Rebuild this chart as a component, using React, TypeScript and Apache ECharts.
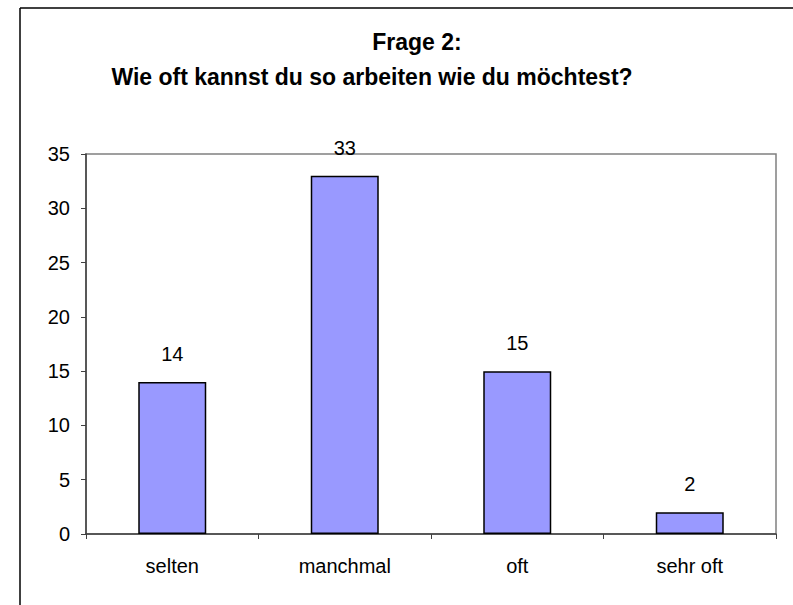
import React, { useEffect, useRef } from "react";
import * as echarts from "echarts";

const categories = ["selten", "manchmal", "oft", "sehr oft"];
const values = [14, 33, 15, 2];
const titleLine1 = "Frage 2:";
const titleLine2 = "Wie oft kannst du so arbeiten wie du möchtest?";

export default function App() {
  const ref = useRef<HTMLDivElement>(null);
  useEffect(() => {
    document.body.style.margin = "0";
    document.body.style.overflow = "hidden";
    const chart = echarts.init(ref.current!, null, { renderer: "svg" });
    const font = "'Liberation Sans', Arial, sans-serif";
    chart.setOption({
      animation: false,
      backgroundColor: "#ffffff",
      grid: { left: 86, top: 154, width: 690, height: 380, show: true, borderColor: "#808080", borderWidth: 1.5, backgroundColor: "transparent" },
      graphic: [
        { type: "line", shape: { x1: 20, y1: 8, x2: 793, y2: 8 }, style: { stroke: "#000", lineWidth: 1.5 }, silent: true },
        { type: "line", shape: { x1: 20, y1: 8, x2: 20, y2: 605 }, style: { stroke: "#000", lineWidth: 1.5 }, silent: true },
        { type: "text", x: 417, y: 42, style: { text: titleLine1, fontFamily: font, fontWeight: "bold", fontSize: 23, fill: "#000", textAlign: "center", textVerticalAlign: "middle" } },
        { type: "text", x: 372, y: 77, style: { text: titleLine2, fontFamily: font, fontWeight: "bold", fontSize: 23, fill: "#000", textAlign: "center", textVerticalAlign: "middle" } },
      ],
      xAxis: {
        type: "category",
        data: categories,
        axisLine: { lineStyle: { color: "#404040", width: 1.5 } },
        axisTick: { show: true, length: 5, lineStyle: { color: "#404040" } },
        axisLabel: { color: "#000", fontFamily: font, fontSize: 20, margin: 22 },
      },
      yAxis: {
        type: "value",
        min: 0,
        max: 35,
        interval: 5,
        splitLine: { show: false },
        axisLine: { show: true, lineStyle: { color: "#404040", width: 1.5 } },
        axisTick: { show: true, length: 5, lineStyle: { color: "#404040" } },
        axisLabel: { color: "#000", fontFamily: font, fontSize: 20, margin: 16 },
      },
      series: [
        {
          type: "bar",
          data: values,
          barWidth: 68,
          itemStyle: { color: "#9999ff", borderColor: "#000", borderWidth: 1.5 },
          label: { show: true, position: "top", distance: 18, color: "#000", fontFamily: font, fontSize: 20 },
        },
      ],
    });
    return () => chart.dispose();
  }, []);
  return <div ref={ref} style={{ width: 793, height: 605 }} />;
}
